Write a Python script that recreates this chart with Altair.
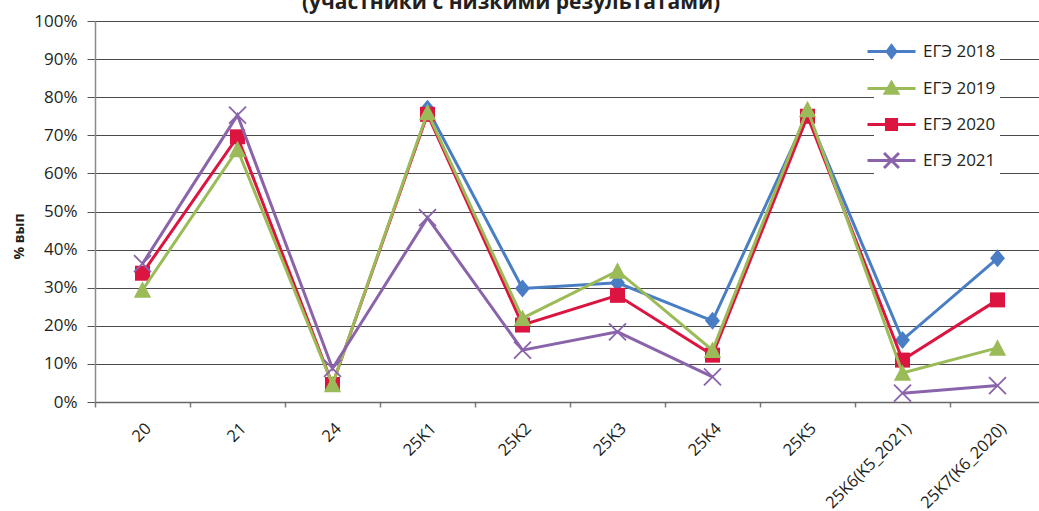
import altair as alt
import pandas as pd

# Task categories on the x axis
categories = ["20", "21", "24", "25K1", "25K2", "25K3", "25K4", "25K5",
              "25K6(K5_2021)", "25K7(K6_2020)"]

# Share of completion, percent (None = no such task that year)
ege_2018 = [None, None, None, 77.0, 29.8, 31.3, 21.3, 75.5, 16.3, 37.7]
ege_2019 = [29.4, 66.3, 4.6, 76.0, 22.0, 34.4, 13.6, 76.8, 7.6, 14.2]
ege_2020 = [33.8, 69.6, 4.6, 75.5, 20.2, 28.0, 12.3, 75.0, 11.0, 26.8]
ege_2021 = [36.3, 75.3, 8.8, 48.4, 13.6, 18.4, 6.6, None, 2.3, 4.3]

series_names = ["ЕГЭ 2018", "ЕГЭ 2019", "ЕГЭ 2020", "ЕГЭ 2021"]
series_values = [ege_2018, ege_2019, ege_2020, ege_2021]
colors = ["#4a7ec4", "#9bbb59", "#dc1440", "#8a64ab"]

y_ticks = list(range(0, 101, 10))

FONT = "Open Sans"
TEXT = "#231f20"

# Marker shapes on the plot (paths in the -1..1 box)
plot_shapes = {
    "ЕГЭ 2018": ("M0,-1L0.83,0L0,1L-0.83,0Z", 324, True),
    "ЕГЭ 2019": ("M0,-1L1,0.9L-1,0.9Z", 300, True),
    "ЕГЭ 2020": ("M-1,-1H1V1H-1Z", 225, True),
    "ЕГЭ 2021": ("M-1,-1L1,1M-1,1L1,-1", 289, False),
}

# Legend symbols: a line segment with the marker on it
legend_paths = [
    "M-2,0H2M0,-0.48L0.36,0L0,0.48L-0.36,0Z",
    "M-2,0H2M0,-0.5L0.52,0.4L-0.52,0.4Z",
    "M-2,0H2M-0.42,-0.42H0.42V0.42H-0.42Z",
    "M-2,0H2M-0.62,-0.62L0.62,0.62M-0.62,0.62L0.62,-0.62",
]

rows = []
for name, vals in zip(series_names, series_values):
    for cat, v in zip(categories, vals):
        rows.append({"cat": cat, "series": name, "value": v})
df = pd.DataFrame(rows)

x_enc = alt.X(
    "cat:N",
    sort=categories,
    scale=alt.Scale(type="band", domain=categories, range=[0, 950],
                    paddingInner=0, paddingOuter=0),
    axis=alt.Axis(
        title=None,
        labelAngle=-45,
        labelFont=FONT,
        labelFontSize=16.5,
        labelColor=TEXT,
        labelPadding=13,
        tickBand="extent",
        tickSize=5,
        tickColor="#7a7a7a",
        tickWidth=1.5,
        domainColor="#666666",
        domainWidth=1.5,
        grid=False,
    ),
)
y_enc = alt.Y(
    "value:Q",
    scale=alt.Scale(domain=[0, 100], nice=False),
    axis=alt.Axis(
        values=y_ticks,
        labelExpr="datum.value + '%'",
        labelFont=FONT,
        labelFontSize=17,
        labelColor=TEXT,
        labelPadding=10,
        tickSize=8,
        tickColor="#555555",
        tickWidth=1,
        domainColor="#8a8a8a",
        domainWidth=1.5,
        grid=True,
        gridColor="#4a4a4a",
        gridWidth=1.1,
        title="% вып",
        titleFont=FONT,
        titleFontSize=14,
        titleFontWeight="bold",
        titleColor=TEXT,
        titleX=-76,
        titleY=215,
        titleAlign="center",
        titleBaseline="middle",
    ),
)

base = alt.Chart(df).encode(x=x_enc, y=y_enc)

layers = []
draw_order = ["ЕГЭ 2018", "ЕГЭ 2020", "ЕГЭ 2019", "ЕГЭ 2021"]
for name in draw_order:
    color = colors[series_names.index(name)]
    path, size, filled = plot_shapes[name]
    sub = base.transform_filter(alt.datum.series == name)
    layers.append(
        sub.mark_line(color=color, strokeWidth=3,
                      invalid="break-paths-filter-domains")
    )
    if filled:
        layers.append(sub.mark_point(shape=path, size=size, filled=True,
                                     color=color, opacity=1))
    else:
        layers.append(sub.mark_point(shape=path, size=size, filled=False,
                                     color=color, strokeWidth=1.8, opacity=1))

legend_def = alt.Legend(
    title=None,
    orient="none",
    legendX=779,
    legendY=13,
    fillColor="white",
    padding=4,
    symbolSize=576,
    symbolStrokeWidth=3,
    symbolOpacity=1,
    labelFont=FONT,
    labelFontSize=17,
    labelColor=TEXT,
    labelOffset=18,
    rowPadding=11,
)

legend_layer = base.mark_point(opacity=0, filled=True, strokeWidth=3).encode(
    fill=alt.Fill("series:N", scale=alt.Scale(domain=series_names, range=colors),
                  legend=legend_def),
    stroke=alt.Stroke("series:N", scale=alt.Scale(domain=series_names, range=colors),
                      legend=legend_def),
    shape=alt.Shape("series:N", scale=alt.Scale(domain=series_names, range=legend_paths),
                    legend=legend_def),
)
layers.append(legend_layer)

chart = (
    alt.layer(*layers)
    .properties(
        width=944,
        height=381,
        autosize=alt.AutoSizeParams(type="none"),
        padding={"left": 95, "top": 21, "right": 0, "bottom": 109},
        title=alt.TitleParams(
            text="(участники с низкими результатами)",
            font=FONT,
            fontSize=21,
            fontWeight="bold",
            color=TEXT,
            anchor="middle",
            frame="group",
            baseline="alphabetic",
            offset=0,
            dx=-56,
            dy=18,
        ),
        background="white",
    )
    .configure_view(stroke=None)
)

chart.save("out.html", embed_options={"renderer": "svg", "actions": False})
